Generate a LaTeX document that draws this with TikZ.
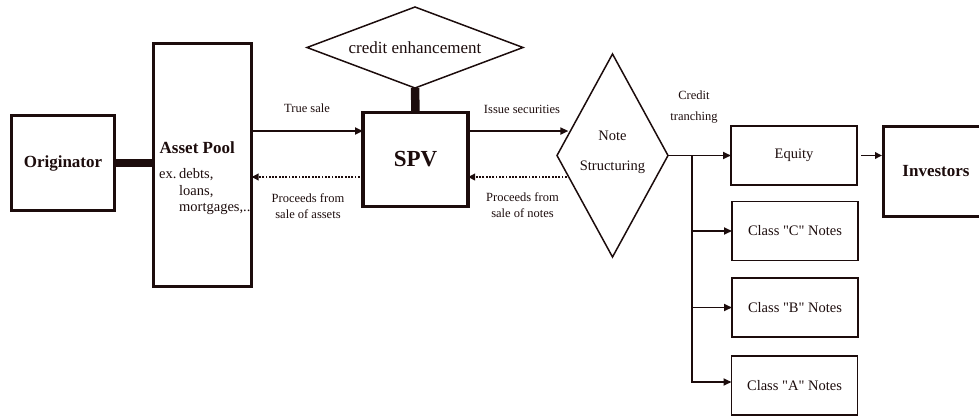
\documentclass[tikz,border=0pt]{standalone}
\usepackage{fontspec}
\setmainfont{Liberation Serif}
\usetikzlibrary{arrows.meta,shapes.geometric,calc}
\definecolor{ink}{HTML}{1C0C0C}
\begin{document}
\begin{tikzpicture}[x=1pt,y=-1pt,
  every node/.style={text=ink},
  heavybox/.style={draw=ink,line width=3.2pt,rectangle,inner sep=0pt,outer sep=0pt,
    font=\fontsize{17}{20}\selectfont\bfseries},
  lightbox/.style={draw=ink,line width=1.7pt,rectangle,inner sep=0pt,outer sep=0pt,
    minimum width=126pt,minimum height=59pt,font=\fontsize{14.5}{17}\selectfont},
  decision/.style={draw=ink,line width=1.5pt,diamond,inner sep=0pt,outer sep=0pt},
  link/.style={draw=ink,line width=8.5pt},
  arr/.style={draw=ink,line width=1.8pt,-{Triangle[length=8pt,width=7pt]}},
  darr/.style={draw=ink,line width=1.8pt,dash pattern=on 1.8pt off 1.5pt,
    -{Triangle[length=7pt,width=6.5pt]}},
  lbl/.style={font=\fontsize{12.5}{16}\selectfont,align=center,inner sep=0pt},
  body/.style={font=\fontsize{14.5}{17}\selectfont,anchor=west,inner sep=0pt}
]
\useasboundingbox (0,0) rectangle (979,417);
\clip (0,0) rectangle (979,417);

% main boxes
\node[heavybox,minimum width=103pt,minimum height=95pt] (orig) at (63,163) {Originator};
\node[heavybox,minimum width=98pt,minimum height=243pt] (pool) at (202.5,165) {};
\node[heavybox,minimum width=105pt,minimum height=94pt,font=\fontsize{23}{26}\selectfont\bfseries] (spv) at (415.5,159.5) {SPV};
\node[heavybox,minimum width=105pt,minimum height=90pt] (inv) at (936,171.5) {Investors};

% asset pool contents
\node[body,font=\fontsize{17}{20}\selectfont\bfseries] (pooltitle) at (159.5,148) {Asset Pool};
\node[body] (poolex) at (159,175) {ex.};
\node[body] (pd1) at (179,175) {debts,};
\node[body] (pd2) at (179,192) {loans,};
\node[body] (pd3) at (179,209) {mortgages,..};

% diamonds
\node[decision,minimum width=216pt,minimum height=81pt,shape aspect=2.67,
  font=\fontsize{17}{20}\selectfont] (ce) at (415,47.5) {credit enhancement};
\node[decision,minimum width=111pt,minimum height=203pt,shape aspect=0.55] (note) at (612.5,155.5) {};
\node[font=\fontsize{14.5}{30}\selectfont,align=center,inner sep=0pt] (notetxt) at (612.5,152) {Note\\Structuring};

% tranches
\node[lightbox] (equity) at (794,155.5) {Equity};
\node[lightbox] (classC) at (795,231) {Class \textquotedbl C\textquotedbl{} Notes};
\node[lightbox] (classB) at (795,307.5) {Class \textquotedbl B\textquotedbl{} Notes};
\node[lightbox] (classA) at (794.5,385.5) {Class \textquotedbl A\textquotedbl{} Notes};

% heavy links
\draw[link] (orig.east) -- (pool.west |- orig.east);
\draw[link] (ce.south) -- (spv.north);

% flows between pool, SPV and note structuring
\coordinate (rowA) at (0,131);
\coordinate (rowB) at (0,177);
\coordinate (noteIn) at ($(note.north)!0.759!(note.west)$);
\coordinate (noteOut) at ($(note.west)!0.212!(note.south)$);
\draw[arr] (pool.east |- rowA) -- (spv.west |- rowA);
\draw[darr] (spv.west |- rowB) -- (pool.east |- rowB);
\draw[arr,shorten >=2pt] (spv.east |- noteIn) -- (noteIn);
\draw[darr,shorten <=2pt] (noteOut) -- (spv.east |- noteOut);

\node[lbl] (tsl) at (307,108) {True sale};
\node[lbl] (pfa) at (308,206) {Proceeds from\\sale of assets};
\node[lbl] (isl) at (522,109) {Issue securities};
\node[lbl] (pfn) at (522.5,205) {Proceeds from\\sale of notes};
\node[lbl,font=\fontsize{12.5}{21}\selectfont] (ctr) at (694,107.5) {Credit\\tranching};

% credit tranching tree
\coordinate (trunk) at (692,0);
\coordinate (tA) at (692,382);
\draw[arr] (note.east) -- (equity.west);
\draw[arr,line join=miter] (trunk |- note.east) -- (tA) -- (classA.west |- tA);
\draw[arr] (trunk |- classC.west) -- (classC.west);
\draw[arr] (trunk |- classB.west) -- (classB.west);

% equity to investors
\draw[arr,-{Triangle[length=7pt,width=6.5pt]},shorten >=1.5pt] ([xshift=4pt]equity.east) -- (inv.west |- equity.east);
\end{tikzpicture}
\end{document}
